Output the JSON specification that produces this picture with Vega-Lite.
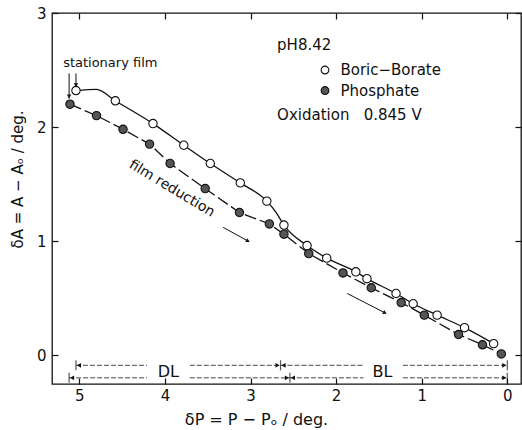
{
  "$schema": "https://vega.github.io/schema/vega-lite/v6.json",
  "width": 469,
  "height": 371,
  "autosize": {"type": "none"},
  "padding": {"left": 52, "top": 13, "right": 1, "bottom": 46},
  "background": "white",
  "config": {
    "view": {"stroke": "#111", "strokeWidth": 1.3},
    "font": "DejaVu Sans",
    "axis": {"grid": false, "domain": false, "labelFont": "DejaVu Sans", "labelFontSize": 15, "labelColor": "#111", "tickColor": "#111", "tickWidth": 1.2, "titleFont": "DejaVu Sans", "titleFontWeight": "normal", "titleFontSize": 15, "titleColor": "#111"}
  },
  "datasets": {
    "boric": [{"x":5.04,"y":2.32},{"x":4.58,"y":2.23},{"x":4.14,"y":2.03},{"x":3.78,"y":1.84},{"x":3.47,"y":1.68},{"x":3.12,"y":1.51},{"x":2.81,"y":1.35},{"x":2.61,"y":1.14},{"x":2.34,"y":0.96},{"x":2.11,"y":0.85},{"x":1.77,"y":0.73},{"x":1.64,"y":0.67},{"x":1.30,"y":0.54},{"x":1.10,"y":0.45},{"x":0.82,"y":0.35},{"x":0.50,"y":0.24},{"x":0.16,"y":0.10}],
    "boricCurve": [{"x":5.04,"y":2.32},{"x":4.80,"y":2.33},{"x":4.58,"y":2.23},{"x":4.14,"y":2.03},{"x":3.78,"y":1.84},{"x":3.47,"y":1.68},{"x":3.12,"y":1.51},{"x":2.81,"y":1.35},{"x":2.70,"y":1.25},{"x":2.61,"y":1.14},{"x":2.34,"y":0.96},{"x":2.11,"y":0.85},{"x":1.77,"y":0.73},{"x":1.64,"y":0.67},{"x":1.30,"y":0.54},{"x":1.10,"y":0.45},{"x":0.82,"y":0.35},{"x":0.50,"y":0.24},{"x":0.16,"y":0.10}],
    "phosphate": [{"x":5.11,"y":2.20},{"x":4.80,"y":2.10},{"x":4.49,"y":1.98},{"x":4.18,"y":1.85},{"x":3.94,"y":1.68},{"x":3.53,"y":1.46},{"x":3.13,"y":1.25},{"x":2.78,"y":1.15},{"x":2.61,"y":1.06},{"x":2.32,"y":0.89},{"x":1.92,"y":0.72},{"x":1.59,"y":0.59},{"x":1.24,"y":0.46},{"x":0.97,"y":0.35},{"x":0.57,"y":0.18},{"x":0.29,"y":0.09},{"x":0.07,"y":0.01}],
    "ranges": [{"x":5.04,"x2":4.21,"y":-0.09},{"x":3.71,"x2":2.65,"y":-0.09},{"x":2.65,"x2":1.68,"y":-0.09},{"x":1.22,"x2":0,"y":-0.09},{"x":5.12,"x2":4.21,"y":-0.2},{"x":3.71,"x2":2.54,"y":-0.2},{"x":2.54,"x2":1.68,"y":-0.2},{"x":1.22,"x2":0,"y":-0.2}],
    "rangeTicks": [{"x":5.04,"y":-0.09},{"x":2.65,"y":-0.09},{"x":0,"y":-0.09},{"x":5.12,"y":-0.2},{"x":2.54,"y":-0.2},{"x":0,"y":-0.2}],
    "rangeHeads": [{"x":5.04,"y":-0.09,"dir":"L"},{"x":2.65,"y":-0.09,"dir":"L"},{"x":5.12,"y":-0.2,"dir":"L"},{"x":2.54,"y":-0.2,"dir":"L"},{"x":2.65,"y":-0.09,"dir":"R"},{"x":0,"y":-0.09,"dir":"R"},{"x":2.54,"y":-0.2,"dir":"R"},{"x":0,"y":-0.2,"dir":"R"}],
    "rangeLabels": [{"x":3.96,"y":-0.15,"label":"DL"},{"x":1.46,"y":-0.15,"label":"BL"}],
    "arrows": [{"x":5.12,"y":2.47,"x2":5.12,"y2":2.25,"kind":"stationary"},{"x":5.04,"y":2.47,"x2":5.04,"y2":2.35,"kind":"stationary"},{"x":3.32,"y":1.12,"x2":3.03,"y2":1.00,"kind":"reduction"},{"x":1.87,"y":0.54,"x2":1.43,"y2":0.37,"kind":"reduction"}],
    "notes": [{"x":2.69,"y":2.72,"label":"pH8.42"},{"x":1.95,"y":2.50,"label":"Boric−Borate"},{"x":1.95,"y":2.32,"label":"Phosphate"},{"x":2.69,"y":2.105,"label":"Oxidation\u00a0\u00a0 0.845 V"}],
    "legendMarks": [{"x":2.13,"y":2.50,"kind":"open"},{"x":2.13,"y":2.32,"kind":"filled"}]
  },
  "encoding": {
    "x": {"field": "x", "type": "quantitative", "scale": {"domain": [-0.16, 5.32], "reverse": true, "nice": false, "zero": false}, "axis": null},
    "y": {"field": "y", "type": "quantitative", "scale": {"domain": [-0.254, 3.0], "nice": false, "zero": false}, "axis": null}
  },
  "layer": [
    {"data": {"name": "ranges"}, "mark": {"type": "rule", "color": "#333", "strokeWidth": 0.9, "strokeDash": [5, 2]}, "encoding": {"x2": {"field": "x2"}}},
    {"data": {"name": "rangeTicks"}, "mark": {"type": "tick", "orient": "vertical", "color": "#111", "size": 10, "thickness": 1.2}},
    {"data": {"name": "rangeHeads"}, "transform": [{"filter": "datum.dir === 'L'"}], "mark": {"type": "point", "shape": "triangle-left", "filled": true, "color": "#111", "size": 22, "opacity": 1, "xOffset": 3}},
    {"data": {"name": "rangeHeads"}, "transform": [{"filter": "datum.dir === 'R'"}], "mark": {"type": "point", "shape": "triangle-right", "filled": true, "color": "#111", "size": 22, "opacity": 1, "xOffset": -3}},
    {"data": {"name": "rangeLabels"}, "mark": {"type": "text", "fontSize": 16, "align": "center", "baseline": "middle", "color": "#111"}, "encoding": {"text": {"field": "label"}}},
    {"data": {"name": "boricCurve"}, "mark": {"type": "line", "interpolate": "monotone", "color": "#111", "strokeWidth": 1.3}},
    {"data": {"name": "phosphate"}, "mark": {"type": "line", "color": "#111", "strokeWidth": 1.3, "strokeDash": [12, 4]}},
    {"data": {"name": "phosphate"}, "mark": {"type": "point", "shape": "circle", "filled": true, "fill": "#555", "stroke": "#111", "strokeWidth": 1.1, "size": 70, "opacity": 1},
     "encoding": {
       "x": {"field": "x", "type": "quantitative", "scale": {"domain": [-0.16, 5.32], "reverse": true, "nice": false, "zero": false}, "axis": {"orient": "top", "values": [0,1,2,3,4,5], "labels": false, "tickSize": -6, "title": null}},
       "y": {"field": "y", "type": "quantitative", "scale": {"domain": [-0.254, 3.0], "nice": false, "zero": false}, "axis": {"orient": "right", "values": [0,1,2,3], "labels": false, "tickSize": -6, "title": null}}
     }},
    {"data": {"name": "boric"}, "mark": {"type": "point", "shape": "circle", "filled": true, "fill": "white", "stroke": "#111", "strokeWidth": 1.1, "size": 70, "opacity": 1},
     "encoding": {
       "x": {"field": "x", "type": "quantitative", "scale": {"domain": [-0.16, 5.32], "reverse": true, "nice": false, "zero": false}, "axis": {"orient": "bottom", "values": [0,1,2,3,4,5], "format": "d", "tickSize": -6, "labelPadding": 10, "title": "δP = P − Pₒ / deg.", "titleFontSize": 16, "titleX": 204, "titleY": 35, "titleAlign": "center", "titleBaseline": "middle"}},
       "y": {"field": "y", "type": "quantitative", "scale": {"domain": [-0.254, 3.0], "nice": false, "zero": false}, "axis": {"orient": "left", "values": [0,1,2,3], "format": "d", "tickSize": -6, "labelPadding": 12, "title": "δA = A − Aₒ / deg.", "titleX": -35, "titleY": 166, "titleAngle": -90, "titleAlign": "center", "titleBaseline": "middle"}}
     }},
    {"data": {"name": "legendMarks"}, "mark": {"type": "point", "shape": "circle", "filled": true, "stroke": "#111", "strokeWidth": 1.1, "size": 60, "opacity": 1},
     "encoding": {"fill": {"field": "kind", "type": "nominal", "scale": {"domain": ["open", "filled"], "range": ["white", "#555"]}, "legend": null}}},
    {"data": {"name": "notes"}, "mark": {"type": "text", "fontSize": 15, "align": "left", "baseline": "middle", "color": "#111"}, "encoding": {"text": {"field": "label"}}},
    {"data": {"values": [{"x": 5.19, "y": 2.56, "label": "stationary film"}]}, "mark": {"type": "text", "fontSize": 13, "align": "left", "baseline": "middle", "color": "#111"}, "encoding": {"text": {"field": "label"}}},
    {"data": {"values": [{"x": 3.92, "y": 1.46, "label": "film reduction"}]}, "mark": {"type": "text", "fontSize": 14, "angle": 31, "align": "center", "baseline": "middle", "color": "#111"}, "encoding": {"text": {"field": "label"}}},
    {"data": {"name": "arrows"}, "mark": {"type": "rule", "color": "#111", "strokeWidth": 1}, "encoding": {"x2": {"field": "x2"}, "y2": {"field": "y2"}}},
    {"data": {"name": "arrows"}, "transform": [{"filter": "datum.kind === 'stationary'"}], "mark": {"type": "point", "shape": "triangle-down", "filled": true, "color": "#111", "size": 20, "opacity": 1, "yOffset": -2},
     "encoding": {"x": {"field": "x2", "type": "quantitative", "scale": {"domain": [-0.16, 5.32], "reverse": true, "nice": false, "zero": false}, "axis": null}, "y": {"field": "y2", "type": "quantitative", "scale": {"domain": [-0.254, 3.0], "nice": false, "zero": false}, "axis": null}}},
    {"data": {"name": "arrows"}, "transform": [{"filter": "datum.kind === 'reduction'"}], "mark": {"type": "point", "shape": "triangle-right", "filled": true, "color": "#111", "size": 20, "opacity": 1, "angle": 28},
     "encoding": {"x": {"field": "x2", "type": "quantitative", "scale": {"domain": [-0.16, 5.32], "reverse": true, "nice": false, "zero": false}, "axis": null}, "y": {"field": "y2", "type": "quantitative", "scale": {"domain": [-0.254, 3.0], "nice": false, "zero": false}, "axis": null}}}
  ],
  "resolve": {"axis": {"x": "independent", "y": "independent"}}
}
